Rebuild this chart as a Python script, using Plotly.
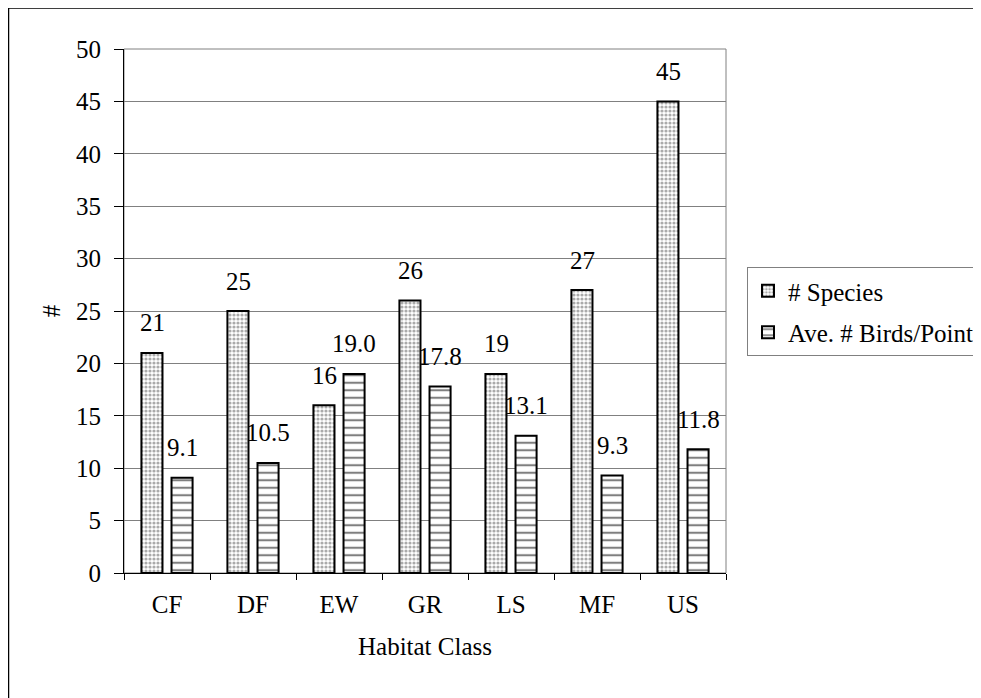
import plotly.graph_objects as go

categories = ["CF", "DF", "EW", "GR", "LS", "MF", "US"]
species = [21, 25, 16, 26, 19, 27, 45]
birds = [9.1, 10.5, 19.0, 17.8, 13.1, 9.3, 11.8]
yticks = [0, 5, 10, 15, 20, 25, 30, 35, 40, 45, 50]

# figure pixel geometry (page is offset by the 8px body margin)
W, H = 1000, 712
L, R, T, B = 116, 718, 41, 565
PW, PH = R - L, B - T

FAM = "Liberation Serif"
font = dict(family=FAM, size=25, color="black")

fig = go.Figure()
fig.add_trace(go.Bar(
    x=categories, y=species, name="# Species", legendgroup="a",
    marker=dict(color="white", line=dict(color="black", width=2),
                pattern=dict(shape=".", fgcolor="#555555", bgcolor="white", size=4, solidity=0.5)),
))
fig.add_trace(go.Bar(
    x=categories, y=birds, name="Ave. # Birds/Point", legendgroup="b",
    marker=dict(color="white", line=dict(color="black", width=2),
                pattern=dict(shape="-", fgcolor="black", bgcolor="white", size=7.5, solidity=0.28)),
))

annotations = []
for c, v in zip(categories, species):
    annotations.append(dict(x=c, y=v, xref="x", yref="y", text=f"{v:d}", showarrow=False,
                            xshift=-15, yshift=30, yanchor="middle", xanchor="center", font=font))
for c, v in zip(categories, birds):
    annotations.append(dict(x=c, y=v, xref="x", yref="y", text=f"{v:.1f}", showarrow=False,
                            xshift=15, yshift=30, yanchor="middle", xanchor="center", font=font))

fig.update_layout(
    width=W, height=H,
    margin=dict(l=L, r=W - R, t=T, b=H - B, pad=0),
    paper_bgcolor="white", plot_bgcolor="white",
    font=font,
    barmode="group", bargap=0.30, bargroupgap=0.30,
    showlegend=True,
    legend=dict(x=(739 - L) / PW, y=(B - 259) / PH, xanchor="left", yanchor="top",
                bordercolor="#808080", borderwidth=1, bgcolor="white",
                font=font, traceorder="grouped", tracegroupgap=6, itemwidth=30),
    xaxis=dict(title=dict(text="Habitat Class", font=font, standoff=20),
               showline=True, linecolor="black", linewidth=1,
               ticks="outside", tickson="boundaries", ticklen=6, tickcolor="black",
               ticklabelstandoff=9,
               tickfont=font, showgrid=False),
    yaxis=dict(title=dict(text="#", font=font, standoff=8),
               range=[0, 50], tickvals=yticks, showline=True, linecolor="black", linewidth=1,
               ticks="outside", ticklen=9, tickcolor="black", tickfont=font,
               ticklabelstandoff=8,
               showgrid=True, gridcolor="#808080", gridwidth=1, zeroline=False),
    annotations=annotations,
    shapes=[
        dict(type="rect", xref="paper", yref="paper", x0=0, x1=1, y0=0, y1=1,
             line=dict(color="#808080", width=1), fillcolor="rgba(0,0,0,0)", layer="below"),
        dict(type="rect", xref="paper", yref="paper",
             x0=(0.5 - L) / PW, x1=(W - 0.5 - L) / PW,
             y0=(B - (H - 0.5)) / PH, y1=(B - 0) / PH,
             line=dict(color="black", width=1.5), fillcolor="rgba(0,0,0,0)", layer="below"),
    ],
)

fig.write_html("out.html")
